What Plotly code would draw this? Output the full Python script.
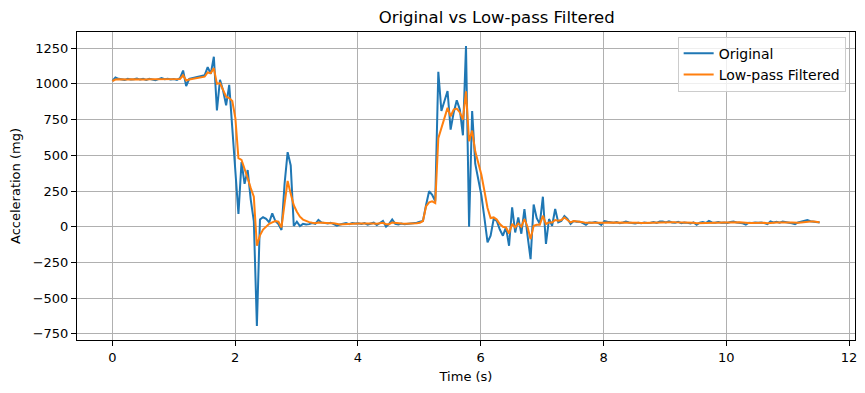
import numpy as np
import plotly.graph_objects as go

n_samples = 231
t_end = 11.52
time_s = np.linspace(0, t_end, n_samples)

original = [
    1020, 1045, 1035, 1030, 1028, 1035, 1030, 1032, 1038, 1030,
    1035, 1028, 1036, 1030, 1025, 1033, 1040, 1032, 1036, 1030,
    1034, 1028, 1040, 1093, 985, 1035, 1040, 1042, 1050, 1055,
    1060, 1117, 1070, 1190, 814, 1028, 953, 850, 993, 690,
    390, 89, 452, 300, 397, 190, 40, -695, 50, 66,
    55, 30, 94, 40, 19, -23, 300, 522, 429, 5,
    35, 5, 20, 15, 18, 25, 20, 47, 30, 25,
    22, 28, 18, 7, 15, 22, 25, 18, 26, 22,
    24, 20, 26, 15, 22, 28, 12, 25, 40, 0,
    20, 50, 20, 15, 22, 18, 20, 24, 22, 28,
    35, 40, 150, 248, 224, 178, 1085, 810, 880, 950,
    680, 800, 885, 820, 640, 1265, 0, 810, 441, 330,
    220, 60, -110, -63, 54, 40, -20, -63, -5, -133,
    135, -40, 65, -49, 124, -60, -227, 155, 60, 20,
    210, -121, 54, 7, 124, 30, 40, 75, 55, 19,
    40, 35, 35, 25, 14, 30, 28, 32, 26, 12,
    40, 35, 30, 28, 33, 25, 30, 37, 30, 26,
    22, 28, 24, 30, 26, 28, 32, 26, 36, 37,
    30, 38, 30, 28, 34, 25, 30, 27, 22, 30,
    14, 28, 32, 26, 40, 30, 28, 32, 28, 30,
    26, 33, 37, 30, 28, 24, 15, 28, 26, 30,
    28, 30, 25, 18, 37, 30, 34, 28, 37, 30,
    28, 24, 18, 30, 35, 40, 47, 38, 35, 32,
    30,
]

filtered = [
    1020, 1030, 1032, 1030, 1030, 1031, 1032, 1031, 1033, 1033,
    1033, 1031, 1032, 1032, 1030, 1030, 1033, 1033, 1034, 1033,
    1033, 1031, 1034, 1060, 1023, 1030, 1035, 1038, 1042, 1046,
    1050, 1080, 1075, 1110, 1000, 1005, 958, 910, 900, 880,
    760, 480, 468, 395, 340, 270, 210, -133, -60, -20,
    0, 20, 30, 40, 35, -5, 160, 320, 230, 150,
    105, 70, 50, 40, 32, 28, 25, 30, 30, 28,
    26, 25, 24, 18, 16, 18, 20, 21, 22, 22,
    23, 22, 23, 21, 21, 23, 20, 21, 27, 18,
    18, 30, 26, 22, 22, 20, 20, 22, 22, 24,
    28, 40, 142, 170, 178, 166, 620, 690, 760, 832,
    773, 820, 827, 800, 750, 948, 598, 673, 528, 440,
    364, 250, 131, 61, 65, 50, 19, 0, -5, -47,
    19, -5, 23, 0, 54, 0, -87, 7, 14, 14,
    77, 19, 30, 30, 47, 42, 47, 65, 50, 30,
    40, 35, 35, 32, 27, 28, 28, 29, 28, 24,
    28, 30, 30, 30, 31, 30, 30, 32, 32, 30,
    28, 27, 26, 27, 27, 27, 28, 28, 30, 31,
    31, 33, 32, 31, 31, 30, 30, 29, 28, 28,
    25, 26, 27, 27, 30, 30, 30, 30, 30, 30,
    29, 30, 32, 31, 31, 29, 26, 26, 26, 27,
    27, 28, 27, 25, 28, 28, 29, 29, 31, 31,
    30, 29, 26, 27, 29, 32, 36, 36, 36, 34,
    32,
]

x_ticks = [0, 2, 4, 6, 8, 10, 12]
y_ticks = [-750, -500, -250, 0, 250, 500, 750, 1000, 1250]

fig = go.Figure()
fig.add_trace(go.Scatter(x=time_s, y=original, mode="lines", name="Original",
                         line=dict(color="#1f77b4", width=2)))
fig.add_trace(go.Scatter(x=time_s, y=filtered, mode="lines", name="Low-pass Filtered",
                         line=dict(color="#ff7f0e", width=2)))

axis_common = dict(
    showline=True, linecolor="black", linewidth=1, mirror=True,
    ticks="outside", ticklen=5, tickwidth=1, tickcolor="black",
    showgrid=True, gridcolor="#b0b0b0", gridwidth=1,
    zeroline=False, tickfont=dict(size=13, color="black"),
    title_font=dict(size=13, color="black"),
    ticklabeloverflow="allow",
)

fig.update_xaxes(range=[-0.576, 12.096], tickvals=x_ticks, title_text="Time (s)",
                 title_standoff=8, **axis_common)
fig.update_yaxes(range=[-793, 1363], tickvals=y_ticks, title_text="Acceleration (mg)",
                 title_standoff=9, **axis_common)

# page body adds an 8px margin; sizes below compensate so the plot lands in place
fig.update_layout(
    width=849, height=377,
    margin=dict(l=69, r=2, t=24, b=45, autoexpand=False),
    paper_bgcolor="white", plot_bgcolor="white",
    font=dict(family="DejaVu Sans", color="black"),
    title=dict(text="Original vs Low-pass Filtered", x=(466 - 8) / 849, xref="paper",
               xanchor="center", y=1 - (17 - 8) / 377, yanchor="middle",
               font=dict(size=16.5, color="black")),
    legend=dict(x=0.988, y=0.985, xanchor="right", yanchor="top",
                bgcolor="rgba(255,255,255,0.8)", bordercolor="#cccccc", borderwidth=1,
                font=dict(size=14, color="black"), tracegroupgap=0),
    showlegend=True,
)

fig.write_html("out.html")
